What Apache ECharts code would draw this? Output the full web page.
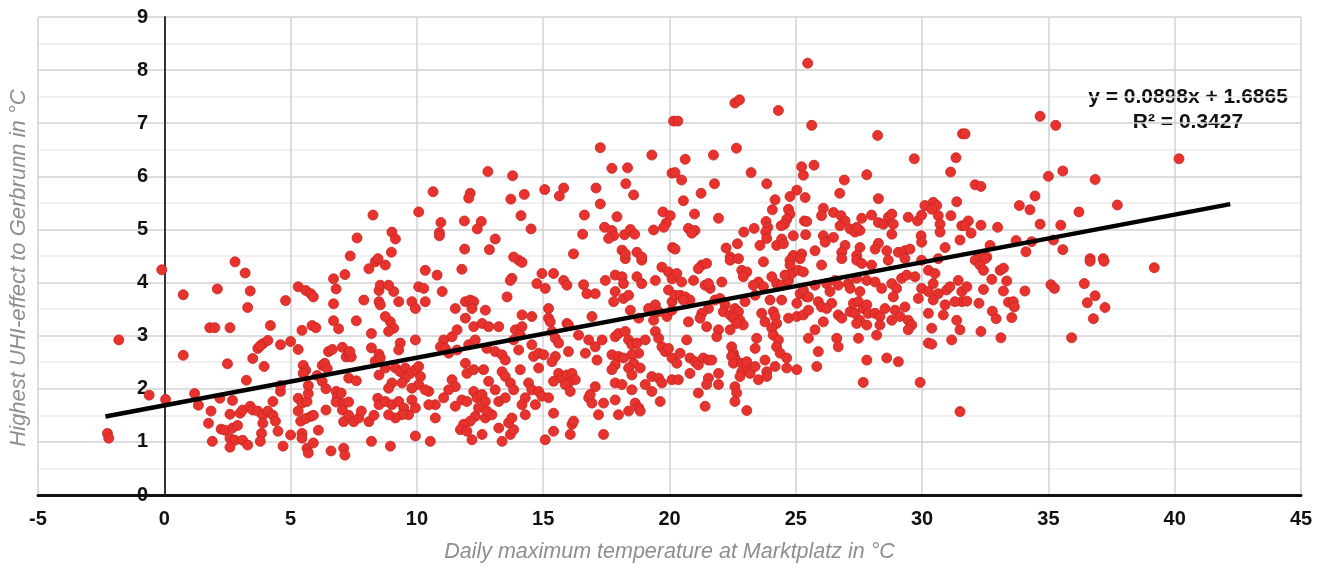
<!DOCTYPE html>
<html>
<head>
<meta charset="utf-8">
<script src="https://cdn.jsdelivr.net/npm/echarts@6/dist/echarts.min.js"></script>
<style>html,body{margin:0;padding:0;background:#fff}#chart{width:1324px;height:568px}</style>
</head>
<body>
<div id="chart"></div>
<script>
// Daily maximum temperature (°C) vs highest UHI effect (°C)
const coldDays = [
[-0.1,4.24],[2.8,4.39],[3.2,4.18],[0.75,3.77],[2.1,3.88],[3.4,3.84],[3.3,3.53],[-1.8,2.92],[1.8,3.15],[2.0,3.15],[2.6,3.15],[0.75,2.63],[2.5,2.47],[-0.6,1.88],[0.05,1.8],[-2.25,1.16],[-2.2,1.07],[1.2,1.91],[1.35,1.69],[1.85,1.58],[1.75,1.35],[1.9,1.01],[2.2,1.82],[2.7,1.78],[2.6,1.52],[2.25,1.24],[2.4,1.22],[2.7,1.26],[2.9,1.31],[2.6,1.07],[2.8,1.03],[3.1,1.03],[3.3,0.94],[2.6,0.9],[3.0,1.54],[3.1,1.6],[3.4,1.67],[3.25,2.16],[3.5,2.57],[3.7,2.76],[3.9,2.85],[4.1,2.91],[3.8,2.81],[4.2,3.19],[3.95,2.42],[3.5,1.6],[3.7,1.58],[3.9,1.5],[3.9,1.35],[3.85,1.16],[3.8,1.01],[4.1,1.58],[4.3,1.5],[4.4,1.39],[4.5,1.2],[4.7,0.92],[5.0,1.13],[4.3,1.76],[4.6,1.95],[4.6,2.06],[4.6,2.83],[5.0,2.89],[4.8,3.66],[5.3,2.74],[5.3,3.92],[5.6,3.85],[5.8,3.79],[5.9,3.73],[5.45,3.1],[5.85,3.19],[6.0,3.15],[5.5,2.44],[5.6,2.35],[5.5,2.29],[5.3,1.82],[5.45,1.73],[5.65,1.76],[5.3,1.58],[5.4,1.39],[5.6,1.44],[5.8,1.48],[5.9,1.5],[5.45,1.16],[5.45,1.07],[5.65,0.88],[5.7,0.79],[5.9,0.98],[6.1,1.22],[5.7,1.91],[5.7,2.06],[6.05,2.25],[6.25,2.14],[6.4,2.0],[6.25,2.44],[6.35,2.48],[6.45,2.38],[6.5,2.7],[6.65,2.74],[6.4,1.6],[6.6,0.83],[6.7,4.07],[6.8,3.88],[7.15,4.15],[6.7,3.6],[6.7,3.28],[6.9,3.13],[7.05,2.78],[6.8,1.95],[6.85,1.85],[7.0,1.92],[6.8,1.75],[7.1,1.72],[7.05,1.6],[7.3,1.75],[7.2,2.6],[7.3,2.65],[7.4,2.6],[7.35,2.7],[7.3,2.2],[7.6,2.15],[7.6,3.28],[7.1,1.38],[7.3,1.5],[7.5,1.38],[7.7,1.45],[7.8,1.58],[8.1,1.38],[8.3,1.5],[7.1,0.88],[7.15,0.75],[8.2,1.01],[7.9,3.67],[8.2,2.77],[8.5,2.65],[8.35,2.52],[8.55,2.58],[8.5,3.64],[8.55,3.58],[8.5,3.85],[8.55,3.95],[8.1,4.26],[8.35,4.39],[8.2,3.04],[8.5,2.26],[8.45,1.82],[8.5,1.7],[8.26,5.27],[7.63,4.84],[7.36,4.5],[8.46,4.45]
];
const mildDays = [
[10.33,4.23],[10.8,4.14],[11.78,4.25],[13.76,4.08],[13.7,4.04],[14.03,4.42],[14.16,4.38],[14.95,4.17],[15.41,4.17],[15.81,4.04],[15.94,3.95],[14.75,3.98],[15.08,3.89],[16.6,3.96],[16.73,3.79],[17.06,3.79],[17.46,4.04],[17.85,4.14],[18.12,4.11],[18.18,3.98],[18.25,4.45],[18.9,4.42],[18.71,4.11],[18.9,3.98],[19.44,4.04],[19.7,4.29],[19.96,4.2],[20.1,4.07],[19.96,3.86],[20.1,3.64],[17.85,3.83],[17.79,3.64],[18.18,3.7],[18.38,3.76],[9.08,3.83],[9.28,3.64],[8.88,3.95],[8.75,4.33],
[10.07,3.92],[10.27,3.89],[11.0,3.83],[10.33,3.64],[9.8,3.64],[9.94,3.51],[11.52,3.51],[11.92,3.64],[12.11,3.67],[12.25,3.64],[12.18,3.51],[12.71,3.48],[13.57,3.73],[14.16,3.39],[14.55,3.36],[15.21,3.51],[15.21,3.33],[15.28,3.26],[16.93,3.36],[18.45,3.48],[18.78,3.33],[19.17,3.51],[19.44,3.58],[19.57,3.45],[19.9,3.36],[19.37,3.29],[20.1,3.48],
[8.95,3.26],[8.75,3.36],[9.08,3.14],[8.88,3.08],[11.92,3.33],[12.25,3.17],[12.58,3.23],[12.84,3.17],[13.24,3.17],[11.59,3.11],[11.39,2.98],[11.06,2.92],[10.93,2.79],[9.94,2.92],[9.34,2.86],[9.28,2.73],[13.9,3.11],[14.16,3.17],[14.09,3.01],[13.83,2.92],[15.94,3.23],[16.0,3.2],[15.35,3.08],[15.48,2.95],[15.61,2.86],[16.4,3.01],[16.8,2.92],[17.06,2.79],[17.33,2.92],[17.85,2.98],[17.98,3.04],[18.25,3.08],[18.38,2.92],[18.51,2.83],[18.71,2.86],[18.78,2.67],[18.51,2.64],[19.04,2.92],[19.44,3.08],[19.57,2.95],[19.7,2.79],[19.83,2.7],[19.96,2.76],[20.1,2.58],
[8.75,2.39],[9.15,2.39],[9.34,2.32],[9.54,2.39],[9.74,2.29],[9.94,2.36],[10.07,2.42],[10.14,2.23],[9.54,2.2],[9.41,2.11],[9.01,2.11],[8.88,2.01],[10.07,2.08],[9.8,2.01],[10.47,1.95],[10.33,1.98],[11.12,2.76],[11.26,2.67],[11.59,2.73],[12.05,2.83],[12.31,2.92],[12.77,2.76],[13.1,2.7],[13.37,2.64],[13.5,2.54],[14.03,2.73],[14.55,2.83],[14.62,2.61],[14.82,2.67],[15.02,2.64],[14.09,2.36],[14.82,2.39],[14.42,2.11],[14.55,1.98],[14.82,1.95],[15.61,2.29],[15.74,2.2],[15.94,2.26],[16.14,2.29],[16.27,2.17],[16.0,2.11],[15.41,2.14],[15.87,2.08],[16.07,1.95],[15.48,2.61],[15.35,2.51],[16.0,2.7],[16.67,2.67],[17.13,2.54],[17.72,2.64],[17.98,2.61],[18.18,2.58],[17.85,2.45],[17.72,2.36],[18.58,2.48],[18.38,2.39],[18.84,2.39],[18.51,2.26],[19.3,2.23],[19.57,2.2],[19.7,2.11],[20.1,2.17],[17.06,2.04],[17.85,2.11],[18.12,2.08],[18.51,1.98],[19.04,2.08],[19.3,1.95],[11.92,2.48],[11.98,2.29],[12.25,2.36],[12.64,2.36],[12.84,2.14],[13.1,1.98],[13.37,2.32],[13.5,2.23],[13.7,2.11],[13.83,1.98],[11.39,2.17],[11.52,2.04],[11.26,1.98],[11.06,1.83],[10.73,1.7],
[8.75,1.76],[9.01,1.7],[9.28,1.76],[9.48,1.64],[9.8,1.79],[9.94,1.64],[9.67,1.51],[9.41,1.51],[9.15,1.45],[8.88,1.51],[8.95,0.92],[9.94,1.11],[10.53,1.01],[10.73,1.45],[10.47,1.7],[11.52,1.67],[11.78,1.79],[11.98,1.76],[12.25,1.95],[12.38,1.83],[12.58,1.89],[12.71,1.76],[12.44,1.64],[12.31,1.48],[12.11,1.39],[11.85,1.33],[11.72,1.23],[11.98,1.2],[12.18,1.04],[12.58,1.14],[12.71,1.45],[12.97,1.51],[12.77,1.58],[13.24,1.76],[13.5,1.83],[13.24,1.26],[13.37,1.01],[13.7,1.14],[13.83,1.23],[13.63,1.36],[13.76,1.45],[14.29,1.83],[14.16,1.7],[14.29,1.51],[14.69,1.7],[14.95,1.86],[15.21,1.83],[15.41,1.54],[15.41,1.2],[15.08,1.04],[16.14,1.33],[16.2,1.39],[16.07,1.14],[16.8,1.83],[16.93,1.73],[17.19,1.51],[17.39,1.73],[16.86,1.89],[17.85,1.79],[17.98,1.51],[18.38,1.58],[18.64,1.73],[18.78,1.64],[18.84,1.58],[19.63,1.76],[17.39,1.14],
[17.26,6.54],[19.3,6.4],[17.72,6.15],[18.34,6.16],[18.27,5.86],[18.58,5.65],[17.09,5.78],[17.26,5.48],[16.63,5.27],[16.56,4.91],[17.92,5.24],[17.43,5.04],[17.72,4.98],[17.79,4.88],[17.59,4.83],[18.22,4.9],[18.45,5.0],[18.62,4.91],[19.37,4.99],[19.74,5.33],[20.03,5.26],[19.87,5.12],[19.77,5.04],[20.16,7.04],[20.1,6.06],[20.12,4.66],[18.12,4.61],[18.25,4.54],[18.71,4.57],[18.9,4.48],[16.2,4.54],[12.81,6.09],[13.79,6.01],[10.64,5.71],[12.11,5.68],[12.05,5.59],[13.72,5.57],[14.25,5.66],[15.06,5.75],[15.81,5.78],[15.64,5.63],[10.07,5.33],[10.95,5.13],[10.89,4.94],[10.89,4.88],[11.88,5.16],[12.55,5.15],[12.39,5.01],[14.12,5.26],[14.52,5.01],[13.1,4.82],[11.89,4.63],[12.87,4.62],[9.01,4.95],[9.15,4.82],[8.99,4.57],[13.83,4.48]
];
const warmDays = [
[25.47,8.13],[22.59,7.38],[22.77,7.44],[24.31,7.24],[25.63,6.96],[20.33,7.04],[28.24,6.77],[22.65,6.53],[21.74,6.4],[20.62,6.32],[25.23,6.18],[25.72,6.21],[25.3,6.02],[23.23,6.07],[20.22,6.07],[20.48,5.93],[21.78,5.86],[23.85,5.86],[26.92,5.93],[27.81,6.03],[29.69,6.33],[31.34,6.35],[31.13,6.08],[31.6,6.8],[21.25,5.68],[20.55,5.54],[25.04,5.74],[24.77,5.62],[25.37,5.6],[26.74,5.68],[28.27,5.58],[24.18,5.56],[24.07,5.37],[20.99,5.29],[21.94,5.21],[24.71,5.38],[24.77,5.29],[24.64,5.19],[24.55,5.1],[23.82,5.15],[23.89,5.04],[23.81,4.95],[23.85,4.83],[23.58,4.7],[20.75,5.02],[21.01,4.98],[20.88,4.93],[23.35,5.02],[22.94,4.95],[22.69,4.73],[22.24,4.65],[24.42,5.07],[24.44,4.82],[24.24,4.7],[24.51,4.73],[24.9,4.88],[25.34,5.16],[25.43,5.15],[25.39,4.9],[26.09,5.4],[26.02,5.26],[26.49,5.32],[26.79,5.26],[26.95,5.16],[26.75,5.07],[27.15,5.01],[27.34,4.95],[27.54,4.98],[27.41,5.04],[27.61,5.21],[26.09,4.88],[26.16,4.76],[26.49,4.85],[26.95,4.7],[26.82,4.57],[28.0,5.27],[28.27,5.13],[28.47,5.1],[28.66,5.23],[28.8,5.29],[28.86,5.1],[28.8,4.91],[28.27,4.74],[28.14,4.63],[28.6,4.6],[29.45,5.23],[29.82,5.16],[29.98,5.27],[29.96,4.88],[29.98,4.76],[30.11,5.45],[30.44,5.51],[30.58,5.45],[30.38,5.38],[30.64,5.26],[30.71,5.1],[30.71,4.95],[31.14,5.26],[31.37,5.52],[31.57,5.07],[31.5,4.8],[30.91,4.66],[29.06,4.57],[29.32,4.6],[29.52,4.63],[25.76,4.6],[27.54,4.66],[27.41,4.51],[24.9,4.51],[25.23,4.54],[22.4,4.48],[20.22,4.63],
[22.4,4.42],[22.73,4.45],[23.72,4.39],[24.77,4.42],[25.17,4.45],[26.02,4.33],[26.82,4.45],[27.41,4.42],[27.61,4.36],[28.0,4.33],[28.66,4.42],[29.32,4.45],[29.98,4.42],[30.64,4.45],[21.28,4.33],[21.47,4.36],[21.14,4.26],[20.29,4.17],[20.48,4.01],[20.95,4.04],[21.41,3.95],[21.61,3.89],[21.54,3.98],[22.07,4.01],[22.86,4.23],[23.06,4.2],[22.92,4.11],[23.52,4.01],[23.32,3.95],[23.72,3.92],[24.05,4.11],[24.24,3.98],[24.44,3.95],[24.71,4.04],[24.84,4.17],[25.1,4.23],[25.3,4.2],[24.77,4.33],[24.57,4.14],[25.17,3.79],[25.43,3.73],[25.3,3.86],[25.76,3.95],[26.22,3.98],[26.55,4.04],[26.68,3.95],[27.08,3.98],[27.15,3.89],[27.54,3.83],[27.41,4.08],[27.81,4.04],[28.14,4.01],[28.4,3.89],[28.8,3.98],[28.99,3.89],[28.86,3.73],[29.19,4.08],[29.39,4.14],[29.72,4.11],[29.98,3.89],[30.25,4.23],[30.51,4.17],[30.44,3.98],[30.64,3.79],[30.97,3.86],[31.1,3.92],[31.43,4.04],[31.57,3.83],[31.57,3.64],[31.3,3.64],[30.91,3.58],[30.44,3.67],[30.25,3.83],
[20.22,3.76],[20.42,3.76],[20.62,3.73],[20.81,3.67],[20.55,3.67],[21.54,3.51],[21.28,3.42],[21.21,3.33],[21.8,3.67],[22.0,3.7],[22.2,3.58],[22.13,3.45],[22.4,3.39],[22.59,3.51],[22.73,3.45],[22.53,3.33],[22.79,3.29],[22.92,3.2],[22.66,3.23],[22.99,3.64],[23.39,3.76],[23.65,3.42],[23.78,3.26],[24.11,3.45],[24.18,3.36],[24.24,3.23],[23.98,3.67],[24.44,3.67],[24.71,3.33],[25.04,3.36],[25.3,3.39],[25.5,3.48],[25.04,3.61],[25.5,3.73],[25.89,3.64],[26.02,3.54],[26.35,3.83],[26.42,3.61],[26.22,3.51],[26.09,3.26],[26.68,3.39],[26.82,3.33],[27.15,3.45],[27.28,3.61],[27.48,3.64],[27.34,3.42],[27.67,3.51],[27.81,3.58],[27.87,3.42],[27.54,3.29],[27.81,3.2],[27.41,3.23],[28.14,3.42],[28.33,3.36],[28.53,3.51],[28.93,3.48],[29.13,3.36],[29.32,3.54],[29.45,3.29],[29.59,3.2],[28.8,3.29],[28.33,3.2],[29.85,3.7],[30.25,3.42],[30.84,3.39],[31.37,3.29],
[20.75,3.26],[21.47,3.17],[21.94,3.11],[21.87,2.98],[22.4,3.11],[20.68,2.92],[23.45,2.95],[23.39,2.76],[22.46,2.79],[22.53,2.67],[22.59,2.58],[24.05,3.14],[24.11,3.01],[24.31,2.92],[24.24,2.79],[24.38,2.67],[24.64,2.58],[25.5,2.95],[25.76,3.11],[25.89,2.7],[26.62,2.95],[26.68,2.79],[27.48,2.95],[28.2,3.01],[29.45,3.11],[30.38,3.14],[30.25,2.86],[30.38,2.84],[31.17,2.92],[31.5,3.11],
[20.42,2.67],[20.81,2.58],[21.01,2.51],[21.14,2.45],[21.34,2.58],[21.54,2.54],[21.67,2.54],[20.29,2.48],[20.35,2.17],[20.81,2.29],[21.54,2.2],[21.47,2.08],[21.94,2.29],[21.94,2.08],[22.46,2.61],[22.53,2.48],[22.86,2.48],[22.86,2.32],[23.06,2.42],[23.19,2.29],[23.39,2.42],[23.52,2.17],[23.78,2.54],[23.85,2.32],[23.85,2.23],[24.18,2.42],[24.64,2.39],[25.04,2.36],[25.83,2.42],[27.81,2.54],[28.6,2.58],[29.06,2.51],[27.67,2.12],[29.92,2.12],[21.14,1.92],[21.41,1.67],[22.59,2.04],[22.66,1.92],[22.59,1.76],[23.06,1.59],[31.5,1.57],[22.79,2.23],[23.06,2.51]
];
const hotDays = [
[34.67,7.13],[35.29,6.96],[31.7,6.8],[40.17,6.33],[35.0,6.0],[35.57,6.1],[36.85,5.94],[32.1,5.84],[32.33,5.81],[34.47,5.63],[33.85,5.45],[34.27,5.37],[37.73,5.46],[36.21,5.33],[31.83,5.16],[31.7,5.07],[31.94,4.93],[32.33,5.08],[32.99,5.04],[34.67,5.1],[35.49,5.08],[33.72,4.79],[34.34,4.77],[35.2,4.8],[32.69,4.7],[34.11,4.58],[35.57,4.62],[32.23,4.48],[32.56,4.48],[36.65,4.45],[37.17,4.45],
[32.1,4.42],[32.49,4.45],[32.29,4.33],[32.43,4.23],[33.09,4.23],[33.22,4.27],[32.76,4.06],[33.35,4.03],[31.77,3.92],[32.43,3.87],[33.22,3.84],[34.07,3.84],[31.77,3.65],[32.25,3.61],[33.42,3.63],[33.61,3.64],[33.65,3.54],[32.78,3.46],[32.93,3.32],[33.55,3.34],[32.33,3.08],[33.12,2.96],[35.1,3.96],[35.24,3.89],[36.65,4.4],[37.2,4.4],[39.19,4.28],[36.42,3.98],[36.85,3.75],[36.54,3.62],[37.24,3.53],[36.78,3.32],[35.92,2.96]
];
// Trendline as labelled in the chart
const trendSlope = 0.0898;
const trendIntercept = 1.6865;
const trendRange = [-2.33, 42.2];
const trendLabel = 'y = 0.0898x + 1.6865';
const r2Label = 'R\u00B2 = 0.3427';
const xTitle = 'Daily maximum temperature at Marktplatz in \u00B0C';
const yTitle = 'Highest UHI-effect to Gerbrunn in \u00B0C';

const points = coldDays.concat(mildDays, warmDays, hotDays);
const trendData = trendRange.map(x => [x, trendSlope * x + trendIntercept]);

const FONT = '"Liberation Sans", Arial, Helvetica, sans-serif';
const chart = echarts.init(document.getElementById('chart'), null, {renderer: 'canvas'});
chart.setOption({
  animation: false,
  backgroundColor: '#ffffff',
  grid: {left: 38, right: 23, top: 17, bottom: 71, containLabel: false},
  xAxis: {
    type: 'value', min: -5, max: 45, interval: 5,
    axisLine: {onZero: true, lineStyle: {color: '#111', width: 3}},
    axisTick: {show: false},
    axisLabel: {color: '#111', fontSize: 20, fontWeight: 'bold', fontFamily: FONT, margin: 14},
    splitLine: {show: true, lineStyle: {color: '#d2d2d2', width: 1.5}},
    name: xTitle, nameLocation: 'middle', nameGap: 46,
    nameTextStyle: {color: '#8e8e8e', fontSize: 21.5, fontStyle: 'italic', fontFamily: FONT}
  },
  yAxis: {
    type: 'value', min: 0, max: 9, interval: 1,
    axisLine: {show: true, onZero: true, lineStyle: {color: '#333', width: 2}},
    axisTick: {show: false},
    axisLabel: {color: '#111', fontSize: 20, fontWeight: 'bold', fontFamily: FONT, margin: -110},
    splitLine: {show: true, lineStyle: {color: '#d2d2d2', width: 1.5}},
    minorTick: {show: false, splitNumber: 2},
    minorSplitLine: {show: true, lineStyle: {color: '#ebebeb', width: 1.5}}
  },
  graphic: [
    {type: 'text', x: 19, y: 268, rotation: Math.PI / 2,
     style: {text: yTitle, fill: '#8e8e8e', font: 'italic 22px ' + FONT, align: 'center', verticalAlign: 'middle'}},
    {type: 'text', x: 1188, y: 97,
     style: {text: trendLabel, fill: '#111', font: 'bold 21px ' + FONT, align: 'center', verticalAlign: 'middle'}},
    {type: 'text', x: 1188, y: 122,
     style: {text: r2Label, fill: '#111', font: 'bold 21px ' + FONT, align: 'center', verticalAlign: 'middle'}}
  ],
  series: [
    {
      type: 'scatter', data: points, symbol: 'circle', symbolSize: 10,
      itemStyle: {color: '#e8322e', borderColor: '#c6241f', borderWidth: 0.8, opacity: 1},
      z: 2
    },
    {
      type: 'line', data: trendData, showSymbol: false, symbol: 'none',
      lineStyle: {color: '#000', width: 4.5}, z: 3
    }
  ]
});
</script>
</body>
</html>
